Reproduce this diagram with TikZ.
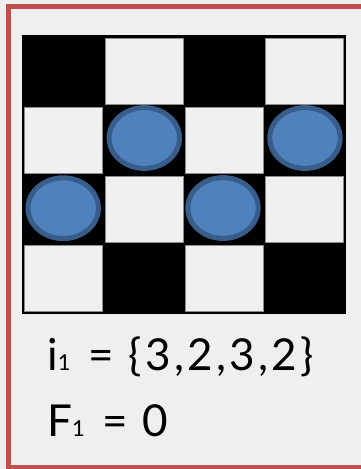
\documentclass[tikz,border=0pt]{standalone}
\usepackage{fontspec}
\setmainfont{Lato}[LetterSpace=7.5]
\definecolor{bggray}{HTML}{EFEFEF}
\definecolor{cellwhite}{HTML}{F0F0F0}
\definecolor{cellgray}{HTML}{8C8C8C}
\definecolor{redline}{HTML}{C0504D}
\definecolor{pieceblue}{HTML}{4F81BD}
\definecolor{piecedark}{HTML}{385D8A}
\newcommand{\subone}{{\fontsize{22}{24}\selectfont 1}}
\newcommand{\eqsp}{\hspace{0.08em}}
\begin{document}
\begin{tikzpicture}[x=1pt,y=-1pt,
  cellw/.style={fill=cellwhite,draw=cellgray,line width=0.8pt},
  piece/.style={fill=pieceblue,draw=piecedark,line width=5pt},
  lbl/.style={anchor=base west,font=\fontsize{44}{48}\selectfont,inner sep=0pt}]
\fill[bggray] (0,0) rectangle (361,469);
\useasboundingbox (0,0) rectangle (361,469);
\begin{scope}
  \clip (0,0) rectangle (361,469);
  \draw[redline,line width=4.5pt] (8.5,6.5) rectangle (390,467.5);
\end{scope}
% board
\fill[black] (22,35) rectangle (346,314);
% white cells: (col left, row top)
\foreach \x/\y in {105.3/38.3, 265.7/38.3,
                   24.7/107.3, 185.3/107.3,
                   105.3/176.7, 265.7/176.7,
                   24.7/245.7, 185.3/245.7}
  \draw[cellw] (\x,\y) rectangle ++(77.8,66);
% pieces
\foreach \x/\y in {144.3/138, 305/138, 63.2/208.2, 223/208}
  \draw[piece] (\x,\y) ellipse [x radius=35.2, y radius=30.4];
% labels
\node[lbl] (ivec) at (47,370) {i\subone\eqsp{} = \{3,2,3,2\}};
\node[lbl] (fval) at (47,436.5) {F\subone\eqsp{} = 0};
\end{tikzpicture}
\end{document}
